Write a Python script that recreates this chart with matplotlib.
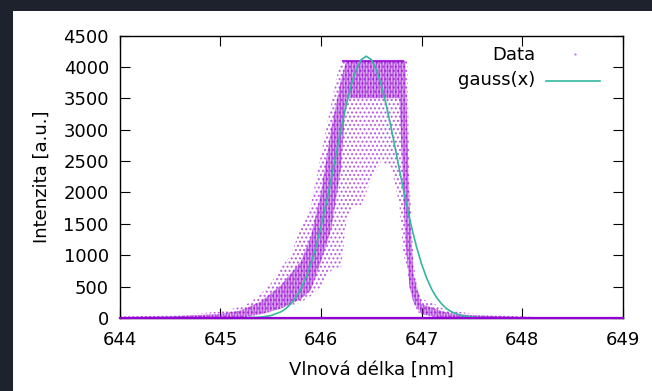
import matplotlib
matplotlib.use("Agg")
import matplotlib.pyplot as plt
from matplotlib.patches import Rectangle

# -----------------------------------------
# data
# -----------------------------------------
# outer extent of the measured points (sparse dots)
wl = [644.0, 644.5, 645.0, 645.1, 645.2, 645.3, 645.4, 645.5, 645.6, 645.7,
      645.8, 645.9, 646.0, 646.05, 646.1, 646.15, 646.2, 646.25, 646.3, 646.4,
      646.5, 646.6, 646.7, 646.78, 646.82, 646.86, 646.88, 646.92, 646.96, 647.0,
      647.1, 647.2, 647.3, 647.5, 647.75, 648.0, 648.2, 649.0]
lo = [0, 0, 0, 0, 0, 20, 50, 100, 150, 200,
      250, 350, 500, 650, 750, 800, 800, 1500, 1750, 1800,
      2200, 2500, 2400, 1800, 1000, 800, 500, 250, 100, 50,
      20, 0, 0, 0, 0, 0, 0, 0]
hi = [25, 40, 100, 140, 180, 250, 380, 550, 800, 1000,
      1450, 1800, 2600, 3000, 3400, 3800, 4095, 4095, 4095, 4095,
      4095, 4095, 4095, 4095, 4095, 4095, 2200, 900, 450, 300,
      250, 160, 110, 75, 50, 25, 10, 5]

# dense core of the points
wl_core = [644.0, 644.5, 645.0, 645.2, 645.4, 645.6, 645.8, 645.9, 646.0, 646.1,
           646.2, 646.25, 646.78, 646.84, 646.88, 646.92, 647.0, 647.1, 647.2, 647.3,
           647.5, 647.75, 648.0, 649.0]
core_lo = [0, 0, 0, 10, 60, 150, 300, 450, 900, 1400,
           2400, 3500, 3500, 1200, 500, 250, 60, 30, 10, 0,
           0, 0, 0, 0]
core_hi = [15, 25, 65, 120, 260, 520, 900, 1300, 2000, 3000,
           3800, 4095, 4095, 4095, 1800, 700, 220, 170, 110, 70,
           45, 30, 15, 6]

# points sitting on the zero line and on the 4095 saturation level
base_wl = [644.0, 649.0]
base = [0, 0]
sat_wl = [646.22, 646.82]
sat = [4095, 4095]

# fitted curve gauss(x)
wl_fit = [645.0, 645.2, 645.4, 645.5, 645.6, 645.65, 645.7, 645.75, 645.8, 645.85,
          645.9, 645.95, 646.0, 646.05, 646.1, 646.15, 646.2, 646.25, 646.3, 646.35,
          646.4, 646.45, 646.5, 646.55, 646.6, 646.65, 646.7, 646.75, 646.8, 646.85,
          646.9, 646.95, 647.0, 647.05, 647.1, 647.15, 647.2, 647.25, 647.3, 647.4,
          647.5, 647.6, 647.7, 647.9]
fit = [0, 1, 14, 38, 97, 149, 224, 326, 462, 641,
       864, 1136, 1454, 1814, 2205, 2610, 3013, 3387, 3709, 3959,
       4116, 4170, 4116, 3959, 3709, 3387, 3013, 2610, 2205, 1814,
       1454, 1136, 864, 641, 462, 326, 224, 149, 97, 38,
       14, 4, 1, 0]

purple = "#9400d3"
teal = "#35b79f"

plt.rcParams["font.family"] = "DejaVu Sans"
plt.rcParams["hatch.linewidth"] = 1.0

fig = plt.figure(figsize=(6.52, 3.91), dpi=100)
fig.patch.set_facecolor("#1d222d")
fig.patches.append(Rectangle((13 / 652, 0), 1, 380 / 391, transform=fig.transFigure,
                             facecolor="white", edgecolor="none", zorder=-10))

ax = fig.add_axes([0.184, 0.1867, 0.7708, 0.7225])
ax.set_zorder(5)
ax.set_facecolor("white")

# -----------------------------------------
# points
# -----------------------------------------
ax.fill_between(wl, lo, hi, facecolor="none", edgecolor=purple, hatch="....",
                linewidth=0, alpha=0.6, zorder=2)
ax.fill_between(wl_core, core_lo, core_hi, facecolor=purple, edgecolor="none",
                linewidth=0, alpha=0.32, zorder=2)
ax.fill_between(wl_core, core_lo, core_hi, facecolor="none", edgecolor=purple,
                hatch="||||||", linewidth=0, alpha=0.5, zorder=2)
ax.plot(sat_wl, sat, color=purple, lw=1.5, alpha=0.8, zorder=2)
ax.plot(base_wl, base, color=purple, lw=1.6, zorder=6, clip_on=False)

# fit
ax.plot(wl_fit, fit, color=teal, lw=1.2, zorder=3)

# -----------------------------------------
# axes
# -----------------------------------------
ax.set_xlim(644, 649)
ax.set_ylim(0, 4500)
ax.set_xticks([644, 645, 646, 647, 648, 649])
ax.set_yticks(range(0, 4501, 500))
ax.tick_params(direction="in", length=7.5, width=0.8, top=True, right=True,
               labelsize=13, colors="black")
ax.tick_params(axis="x", pad=9)
ax.tick_params(axis="y", pad=8)
for s in ax.spines.values():
    s.set_linewidth(1.0)
ax.set_xlabel("Vlnová délka [nm]", fontsize=13, labelpad=9)
ax.set_ylabel("Intenzita [a.u.]", fontsize=13, labelpad=9)

# legend, gnuplot style
ax.text(0.826, 0.931, "Data", transform=ax.transAxes, ha="right", va="center",
        fontsize=13)
ax.plot([0.905], [0.933], transform=ax.transAxes, marker=".", ms=1.5,
        color=purple, alpha=0.4)
ax.text(0.826, 0.8425, "gauss(x)", transform=ax.transAxes, ha="right", va="center",
        fontsize=13)
ax.plot([0.847, 0.955], [0.839, 0.839], transform=ax.transAxes, color=teal, lw=1.2)

fig.savefig("out.png", dpi=100, facecolor=fig.get_facecolor())
